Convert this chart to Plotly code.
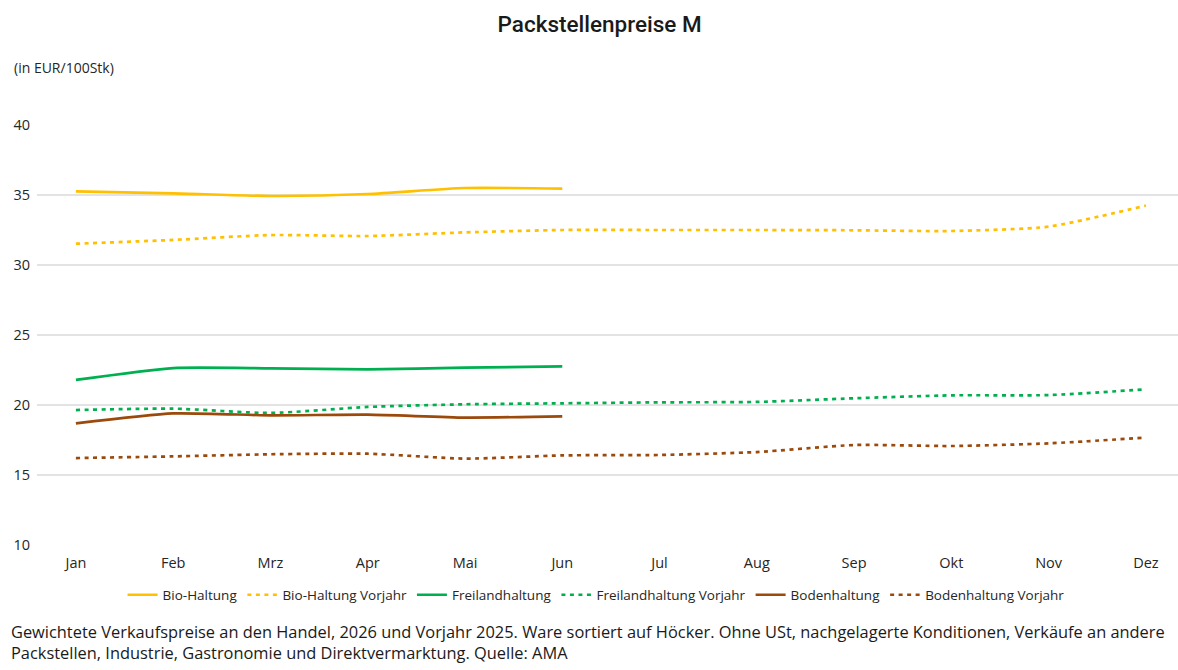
import plotly.graph_objects as go

months = ["Jan", "Feb", "Mrz", "Apr", "Mai", "Jun", "Jul", "Aug", "Sep", "Okt", "Nov", "Dez"]
months_cur = months[:6]

bio = [35.26, 35.12, 34.93, 35.07, 35.50, 35.45]
bio_vj = [31.52, 31.79, 32.14, 32.07, 32.33, 32.50, 32.50, 32.50, 32.48, 32.43, 32.74, 34.24]
frei = [21.79, 22.64, 22.62, 22.55, 22.67, 22.76]
frei_vj = [19.64, 19.74, 19.43, 19.86, 20.05, 20.12, 20.19, 20.22, 20.48, 20.69, 20.71, 21.12]
boden = [18.69, 19.40, 19.26, 19.31, 19.10, 19.19]
boden_vj = [16.21, 16.33, 16.48, 16.52, 16.17, 16.40, 16.43, 16.64, 17.14, 17.07, 17.26, 17.67]

y_ticks = [10, 15, 20, 25, 30, 35, 40]

YELLOW = "#FFC000"
GREEN = "#00B050"
BROWN = "#9C4A0C"
DOT = "4px,4.5px"

series = [
    ("Bio-Haltung", months_cur, bio, YELLOW, "solid"),
    ("Bio-Haltung Vorjahr", months, bio_vj, YELLOW, DOT),
    ("Freilandhaltung", months_cur, frei, GREEN, "solid"),
    ("Freilandhaltung Vorjahr", months, frei_vj, GREEN, DOT),
    ("Bodenhaltung", months_cur, boden, BROWN, "solid"),
    ("Bodenhaltung Vorjahr", months, boden_vj, BROWN, DOT),
]

fig = go.Figure()
for name, xs, ys, color, dash in series:
    fig.add_trace(go.Scatter(
        x=xs, y=ys, name=name, mode="lines",
        line=dict(color=color, width=2.7, dash=dash, shape="spline", smoothing=0.6),
    ))

FONT = "Open Sans"

fig.update_layout(
    width=1178, height=670,
    margin=dict(l=37, r=0, t=125, b=125),
    paper_bgcolor="white", plot_bgcolor="white",
    font=dict(family=FONT, size=14, color="#262626"),
    title=dict(text="Packstellenpreise M", x=0.509, xref="container", xanchor="center",
               y=0.964, yref="container", yanchor="middle",
               font=dict(family="Roboto", size=22.5, color="#1a1a1a", weight=500)),
    showlegend=True,
    legend=dict(orientation="h", x=0.506, xref="container", xanchor="center",
                y=0.112, yref="container", yanchor="middle",
                font=dict(size=13.5, color="#262626"), itemwidth=30,
                tracegroupgap=0, traceorder="normal"),
    annotations=[
        dict(text="(in EUR/100Stk)", xref="paper", yref="paper", x=-0.0219, y=1.138,
             xanchor="left", yanchor="middle", showarrow=False,
             font=dict(size=14, color="#262626")),
        dict(text="Gewichtete Verkaufspreise an den Handel, 2026 und Vorjahr 2025. Ware sortiert auf Höcker. Ohne USt, nachgelagerte Konditionen, Verkäufe an andere<br>Packstellen, Industrie, Gastronomie und Direktvermarktung. Quelle: AMA",
             xref="paper", yref="paper", x=-0.0245, y=-0.231,
             xanchor="left", yanchor="middle", align="left", showarrow=False,
             font=dict(size=16.4, color="#1a1a1a")),
    ],
)

fig.update_xaxes(
    type="category", categoryorder="array", categoryarray=months,
    range=[-0.40, 11.33], showgrid=False, zeroline=False, showline=False,
    ticks="", tickfont=dict(size=14.5, color="#262626"), ticklabelstandoff=7,
)
fig.update_yaxes(
    range=[10, 40], tickvals=y_ticks, showgrid=True, gridcolor="#E3E3E3", gridwidth=1.5,
    zeroline=False, showline=False, ticks="", tickfont=dict(size=14.5, color="#262626"),
    ticklabelstandoff=6,
)

fig.write_html("out.html", config={"displayModeBar": False},
               post_script="document.body.style.margin='0';")
